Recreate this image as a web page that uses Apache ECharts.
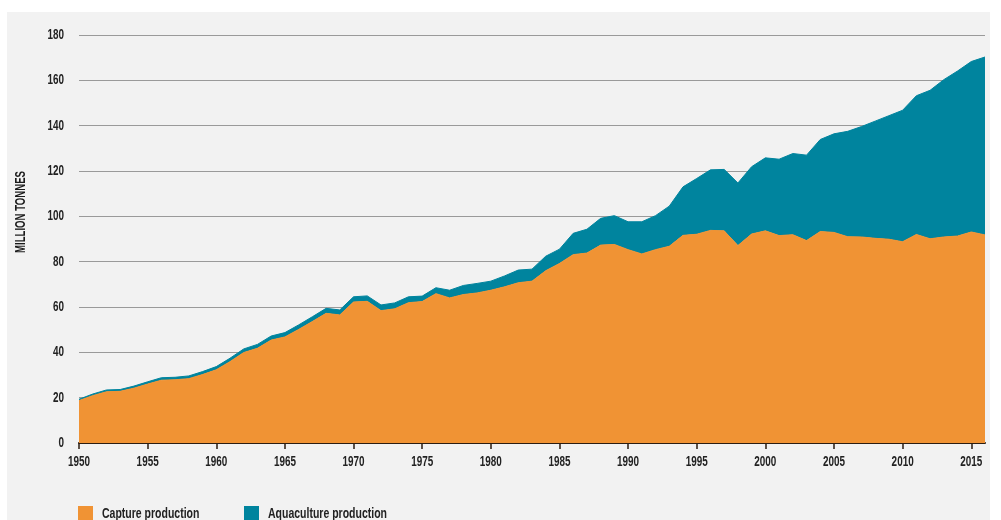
<!DOCTYPE html>
<html>
<head>
<meta charset="utf-8">
<script src="https://cdn.jsdelivr.net/npm/echarts@6/dist/echarts.min.js"></script>
<style>
html,body{margin:0;padding:0;background:#ffffff;}
#chart{width:1001px;height:520px;}
</style>
</head>
<body>
<div id="chart"></div>
<script>
const years = [1950,1951,1952,1953,1954,1955,1956,1957,1958,1959,
1960,1961,1962,1963,1964,1965,1966,1967,1968,1969,
1970,1971,1972,1973,1974,1975,1976,1977,1978,1979,
1980,1981,1982,1983,1984,1985,1986,1987,1988,1989,
1990,1991,1992,1993,1994,1995,1996,1997,1998,1999,
2000,2001,2002,2003,2004,2005,2006,2007,2008,2009,
2010,2011,2012,2013,2014,2015,2016];

const capture = [18.7,20.9,22.6,22.8,24.2,26.0,27.7,27.9,28.4,30.2,
32.3,35.9,39.9,41.8,45.4,46.8,50.1,53.6,57.2,56.5,
62.2,62.5,58.4,59.2,61.9,62.4,65.9,64.0,65.5,66.2,
67.4,68.9,70.7,71.4,76.0,79.2,83.1,83.8,87.3,87.6,
85.3,83.4,85.3,86.8,91.6,92.1,93.8,93.6,87.1,92.2,
93.6,91.5,91.9,89.3,93.3,92.9,91.0,90.9,90.3,89.9,
88.8,92.0,90.1,90.9,91.3,93.1,91.8];

const aquaculture = [0.6,0.7,0.8,0.8,0.9,1.0,1.1,1.1,1.2,1.3,
1.4,1.5,1.6,1.7,1.8,1.9,2.0,2.1,2.2,2.2,
2.3,2.4,2.5,2.6,2.6,2.4,2.6,3.4,4.0,4.2,
4.0,4.8,5.6,5.3,6.4,6.3,9.4,10.5,11.8,12.7,
12.3,14.2,15.0,17.7,21.4,24.6,26.7,27.1,27.6,29.7,
32.2,33.7,35.8,37.7,40.6,43.5,46.5,48.7,51.7,54.5,
58.0,61.2,65.5,69.4,72.8,75.2,78.5];

const yTicks = [0,20,40,60,80,100,120,140,160,180];
const xTickLabels = [1950,1955,1960,1965,1970,1975,1980,1985,1990,1995,2000,2005,2010,2015];
const seriesNames = ['Capture production','Aquaculture production'];
const axisTitle = 'MILLION TONNES';

const ORANGE = '#f09334';
const TEAL = '#00849e';
const FONT = "'Liberation Sans', Arial, sans-serif";
const SQX = 0.66;

const chart = echarts.init(document.getElementById('chart'), null, {renderer:'canvas'});
chart.setOption({
  backgroundColor: '#ffffff',
  animation: false,
  grid: {left:79, right:16, top:35, bottom:77, containLabel:false},
  legend: [
    {data:[seriesNames[0]], left:78, top:506, padding:0, icon:'rect', itemWidth:15, itemHeight:15,
     formatter:function(){return '';}, textStyle:{fontSize:1}},
    {data:[seriesNames[1]], left:244, top:506, padding:0, icon:'rect', itemWidth:15, itemHeight:15,
     formatter:function(){return '';}, textStyle:{fontSize:1}}
  ],
  xAxis: {
    type:'category', data:years, boundaryGap:false,
    axisLine:{show:true, lineStyle:{color:'#2b1d12', width:2}},
    axisTick:{show:true, interval:4, length:6, lineStyle:{color:'#2b1d12', width:1.5}},
    axisLabel:{show:false},
    splitLine:{show:false}
  },
  yAxis: {
    type:'value', min:yTicks[0], max:yTicks[yTicks.length-1], interval:20,
    axisLine:{show:false}, axisTick:{show:false},
    axisLabel:{show:false},
    splitLine:{show:true, lineStyle:{color:'#9a9a9a', width:1.2}}
  },
  series: [
    {name:seriesNames[0], type:'line', stack:'total', data:capture, showSymbol:false, symbol:'none',
     itemStyle:{color:ORANGE}, lineStyle:{color:ORANGE, width:1}, areaStyle:{color:ORANGE, opacity:1}, z:3},
    {name:seriesNames[1], type:'line', stack:'total', data:aquaculture, showSymbol:false, symbol:'none',
     itemStyle:{color:TEAL}, lineStyle:{color:TEAL, width:1}, areaStyle:{color:TEAL, opacity:1}, z:2}
  ]
});

// Condensed text labels placed through the chart's own scales
const g = [
  {type:'rect', z:-10, silent:true, shape:{x:7,y:12,width:983,height:508}, style:{fill:'#f2f2f2'}},
  {type:'text', x:21, y:212, rotation:Math.PI/2, scaleX:0.64, z:10,
   style:{text:axisTitle, fill:'#1a1a1a', font:"bold 15px " + FONT, align:'center', verticalAlign:'middle'}}
];
yTicks.forEach(function(v){
  const p = chart.convertToPixel({yAxisIndex:0}, v);
  g.push({type:'text', x:64, y:p, scaleX:SQX, z:10,
    style:{text:String(v), fill:'#222', font:"bold 15px " + FONT, align:'right', verticalAlign:'middle'}});
});
xTickLabels.forEach(function(yr){
  const p = chart.convertToPixel({xAxisIndex:0}, String(yr));
  g.push({type:'text', x:p, y:462, scaleX:SQX, z:10,
    style:{text:String(yr), fill:'#222', font:"bold 15px " + FONT, align:'center', verticalAlign:'middle'}});
});
g.push({type:'text', x:102, y:514, scaleX:0.7, z:10,
  style:{text:seriesNames[0], fill:'#222', font:"bold 15px " + FONT, align:'left', verticalAlign:'middle'}});
g.push({type:'text', x:268, y:514, scaleX:0.7, z:10,
  style:{text:seriesNames[1], fill:'#222', font:"bold 15px " + FONT, align:'left', verticalAlign:'middle'}});
chart.setOption({graphic:g});
</script>
</body>
</html>
